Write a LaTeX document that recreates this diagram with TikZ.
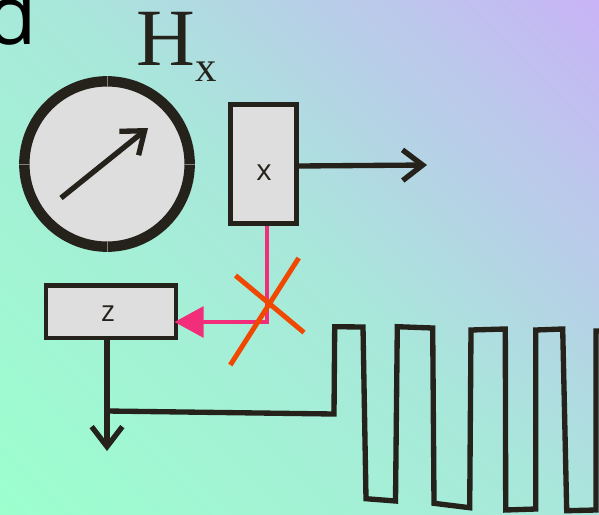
\documentclass[tikz,border=0pt]{standalone}
\usepackage{fontspec}
\setmainfont{Liberation Serif}
\newfontfamily\labelfont{Open Sans}
\usetikzlibrary{arrows.meta}
\definecolor{inkdark}{HTML}{25221C}
\definecolor{boxgrey}{HTML}{DEDEDE}
\definecolor{beampink}{HTML}{F22E7A}
\definecolor{crossorange}{HTML}{F04800}
\definecolor{bgmint}{HTML}{9CFFCE}
\definecolor{bgmiddle}{HTML}{A8E8DA}
\definecolor{bgviolet}{HTML}{C8B4F6}
\tikzset{
    darkline/.style={draw=inkdark,line width=4pt,line join=miter},
    coilbox/.style={draw=inkdark,fill=boxgrey,line width=3.6pt,inner sep=0pt},
    coillabel/.style={inner sep=0pt,font=\labelfont\fontsize{22}{22}\selectfont,text=inkdark},
    barb/.style={-{Straight Barb[length=15pt,width=23pt,line width=4pt]}},
    beamline/.style={draw=beampink,line width=3.4pt},
    crossline/.style={draw=crossorange,line width=3.7pt},
    seam/.style={draw=gray,line width=0.4pt},
}

\begin{document}
\begin{tikzpicture}[x=0.75pt,y=0.75pt,yscale=-1,xscale=1]
    \useasboundingbox (0,0) rectangle (599,514);
    \clip (0,0) rectangle (599,514);

    %Background
    \path [bottom color=bgmint,top color=bgviolet,middle color=bgmiddle,shading angle=-45] (-124,-106.5) rectangle (723,620.5);

    % Text Node
    \draw (37,46) node (panel) [anchor=south east,inner sep=0pt,text=black] [font=\labelfont\fontsize{62}{62}\selectfont] {d};
    % Text Node
    \draw (136,65) node (field) [anchor=base west,inner sep=0pt,text=inkdark] [font=\fontsize{61}{61}\selectfont] {H};
    % Text Node
    \draw (195,81) node (fieldsub) [anchor=base west,inner sep=0pt,text=inkdark] [font=\fontsize{32}{32}\selectfont] {x};

    %Shape: Circle
    \draw (107,164) node (dial) [circle,draw=inkdark,fill=boxgrey,line width=7.8pt,minimum size=124pt,inner sep=0pt,outer sep=0pt] {};
    \draw [seam] ([yshift=-3.9pt]dial.north) -- ([yshift=3.9pt]dial.north);
    \draw [seam] ([yshift=-3.9pt]dial.south) -- ([yshift=3.9pt]dial.south);
    \draw [seam] ([xshift=-3.9pt]dial.east) -- ([xshift=3.9pt]dial.east);
    \draw [seam] ([xshift=-3.9pt]dial.west) -- ([xshift=3.9pt]dial.west);
    %Straight Lines
    \coordinate (needlestart) at (61,198);
    \coordinate (needletip) at (148,128);
    \draw [darkline,barb] (needlestart) -- (needletip);

    %Shape: Rectangle
    \draw (263.5,164) node (xbox) [coilbox,minimum width=49.5pt,minimum height=89.2pt] {};
    \draw (264,173) node (xlabel) [coillabel] {x};
    %Shape: Rectangle
    \draw (111,311.75) node (zbox) [coilbox,minimum width=97.5pt,minimum height=39.4pt] {};
    \draw (108,314) node (zlabel) [coillabel] {z};

    %Straight Lines
    \coordinate (xout) at (427,165);
    \draw [darkline,barb] (xbox.east |- 0,166) -- (xout);
    %Pink beam
    \coordinate (beamturn) at (267,322);
    \draw [beamline,shorten >=-3pt,-{Triangle[length=22pt,width=23pt]}] (xbox.south -| beamturn) -- (beamturn) -- (zbox.east |- beamturn);

    %Orange cross
    \coordinate (crossa) at (235.5,275.5);
    \coordinate (crossb) at (304,332.5);
    \coordinate (crossc) at (298.7,258);
    \coordinate (crossd) at (230.3,365);
    \draw [crossline] (crossa) -- (crossb);
    \draw [crossline] (crossc) -- (crossd);

    %Straight Lines
    \coordinate (zout) at (107,451);
    \coordinate (signalstart) at (107,411);
    \draw [darkline,barb] (zbox.south -| zout) -- (zout);
    %Signal trace
    \draw [darkline] (signalstart) -- (334,414) -- (334.7,326.7) -- (363,327) -- (366,498.7) -- (395.5,501) -- (397.3,326.7) -- (432.7,328) -- (434,503.3) -- (469.7,507.7) -- (471,330) -- (505.3,329) -- (505.7,510) -- (535.7,509) -- (535.7,330) -- (562.7,329) -- (566.7,510.7) -- (596,510) -- (596,331) -- (603,331);

\end{tikzpicture}
\end{document}
